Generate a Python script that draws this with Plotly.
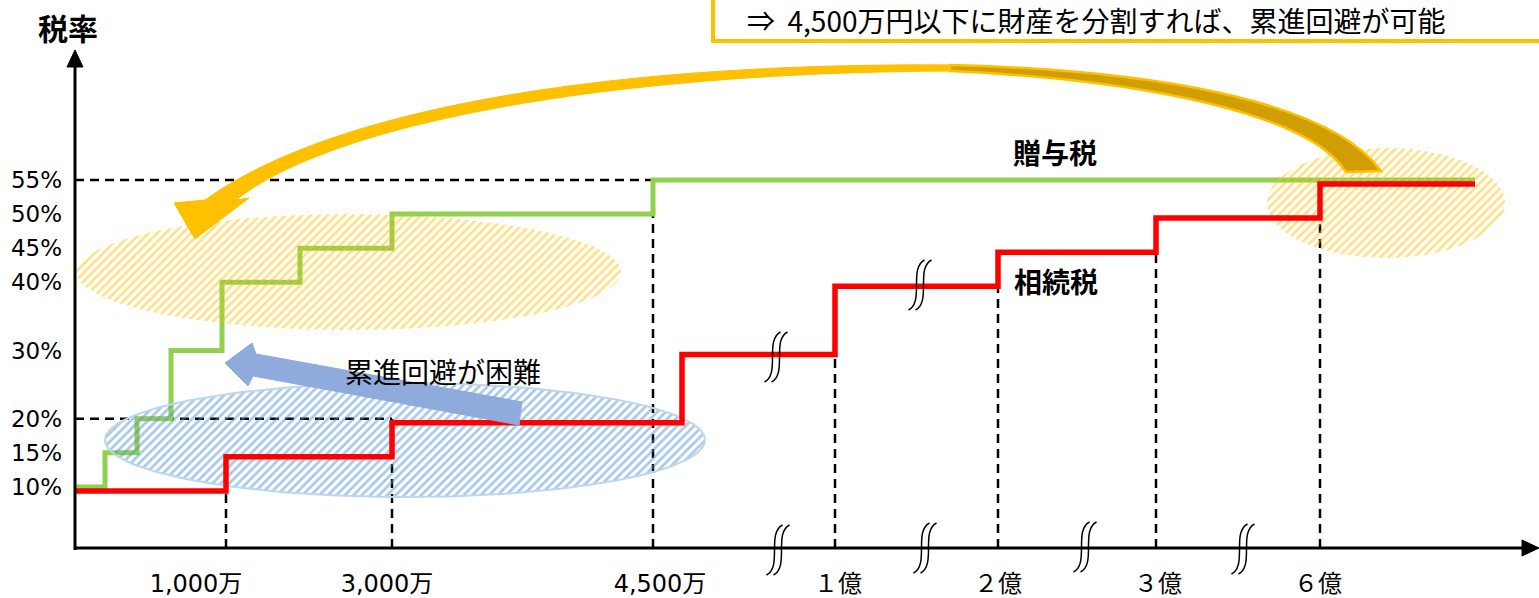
import numpy as np
import plotly.graph_objects as go

# ---------------- data ----------------
rates = [10, 15, 20, 30, 40, 45, 50, 55]
# schematic positions (broken x-axis) of the bracket boundaries
gift_breaks = [0, 30, 62, 96, 147, 225, 317, 578, 1400]
inherit_breaks = [0, 151, 317, 607, 760, 923, 1081, 1245, 1400]
rate_tick_vals = [10, 15, 20, 30, 40, 45, 50, 55]
rate_tick_text = ["10%", "15%", "20%", "30%", "40%", "45%", "50%", "55%"]
amount_tick_text = ["1,000万", "3,000万", "4,500万", "１億", "２億", "３億", "６億"]
amount_tick_pos = [121, 312, 585, 763, 923, 1083, 1243]
guide_x = [151, 317, 578, 760, 923, 1081, 1245]
guide_rate = [10, 20, 50, 30, 40, 45, 50]
hguide_rate = [55, 20]
hguide_end = [1245, 317]

# ---------------- layout constants ----------------
W, H = 1539, 598
ORIGIN_PX = 75
AXIS_PX = 548
PX0 = 555.2
PXPER = 6.822
RED_SHIFT = 4
CJK = "Noto Sans CJK JP"
LAT = "DejaVu Sans, Noto Sans CJK JP"


def X(px):
    return px - ORIGIN_PX


axis_rate = (PX0 - AXIS_PX) / PXPER

fig = go.Figure()


def ellipse(cx, cy, rx, ry, n=160):
    t = np.linspace(0, 2 * np.pi, n)
    return X(cx + rx * np.cos(t)), cy + ry * np.sin(t)


def hatched(cx, cy, rx, ry, fg, edge, sol):
    ex, ey = ellipse(cx, cy, rx, ry)
    fig.add_trace(go.Scatter(x=ex, y=ey, yaxis="y2", mode="lines", fill="toself",
                             line=dict(color=edge, width=2 if edge != "rgba(0,0,0,0)" else 0),
                             fillcolor="rgba(0,0,0,0)",
                             fillpattern=dict(shape="/", fgcolor=fg, bgcolor="rgba(0,0,0,0)",
                                              size=6, solidity=sol),
                             hoverinfo="skip"))


hatched(349, 272, 272, 58, "#FFC000", "rgba(0,0,0,0)", 0.42)
hatched(405, 440, 300, 57, "#4F91D2", "#BDD7EE", 0.45)
hatched(1386, 203, 119, 55, "#FFC000", "rgba(0,0,0,0)", 0.42)

# dashed guides
gx, gy = [], []
for xv, rv in zip(guide_x, guide_rate):
    gx += [xv, xv, None]
    gy += [axis_rate, rv, None]
for rv, xe in zip(hguide_rate, hguide_end):
    gx += [0, xe, None]
    gy += [rv, rv, None]
fig.add_trace(go.Scatter(x=gx, y=gy, mode="lines",
                         line=dict(color="black", width=2.5, dash="9px,6px"),
                         hoverinfo="skip"))

# step lines
fig.add_trace(go.Scatter(x=gift_breaks, y=rates + [rates[-1]], mode="lines",
                         line=dict(color="#92D050", width=5, shape="hv"), name="贈与税"))
fig.add_trace(go.Scatter(x=inherit_breaks, y=rates + [rates[-1]], mode="lines", yaxis="y3",
                         line=dict(color="#FF0000", width=5.5, shape="hv"), name="相続税"))


def P(x, y):
    return f"{X(x)},{y}"


shapes = []
# yellow curved arrow: front (left) part with head
shapes.append(dict(
    type="path", xref="x", yref="y2",
    path=(f"M {P(955, 65)} C {P(600, 62)} {P(330, 110)} {P(205, 200)} "
          f"L {P(174, 203)} L {P(195, 239)} L {P(249, 198)} L {P(236, 200)} "
          f"C {P(330, 125)} {P(600, 72)} {P(955, 71)} Z"),
    fillcolor="#FFC000", line=dict(color="#FFC000", width=1)))
# back (right) part
shapes.append(dict(
    type="path", xref="x", yref="y2",
    path=(f"M {P(950, 65)} C {P(1150, 70)} {P(1330, 100)} {P(1381, 171)} "
          f"L {P(1346, 172)} C {P(1310, 115)} {P(1150, 80)} {P(950, 71)} Z"),
    fillcolor="#D09E00", line=dict(color="#FFC000", width=2.5)))
# blue arrow
shapes.append(dict(
    type="path", xref="x", yref="y2",
    path=(f"M {P(225, 363)} L {P(252, 343)} L {P(256, 354)} L {P(522, 402)} "
          f"L {P(519, 425)} L {P(253, 376)} L {P(248, 386)} Z"),
    fillcolor="#8FAADC", line=dict(color="#8FAADC", width=1)))

# axes lines and arrowheads
shapes.append(dict(type="line", xref="x", yref="y2", x0=X(75), x1=X(75), y0=550, y1=64,
                   line=dict(color="black", width=3)))
shapes.append(dict(type="path", xref="x", yref="y2",
                   path=f"M {P(75, 50)} L {P(67, 67)} L {P(83, 67)} Z",
                   fillcolor="black", line=dict(color="black", width=1)))
shapes.append(dict(type="line", xref="x", yref="y2", x0=X(74), x1=X(1524), y0=548, y1=548,
                   line=dict(color="black", width=3)))
shapes.append(dict(type="path", xref="x", yref="y2",
                   path=f"M {P(1539, 548)} L {P(1522, 540)} L {P(1522, 556)} Z",
                   fillcolor="black", line=dict(color="black", width=1)))


def squiggle(cx, cy, h=50):
    out = []
    for dx in (-3.5, 3.5):
        c = cx + dx
        p = (f"M {P(c + 8, cy - h / 2)} C {P(c - 8, cy - h / 3)} "
             f"{P(c + 8, cy + h / 3)} {P(c - 8, cy + h / 2)}")
        out.append(dict(type="path", xref="x", yref="y2", path=p,
                        line=dict(color="black", width=1.5)))
    return out


for cx, cy in [(778, 550), (925, 548), (1085, 547), (1243, 549), (776, 357), (920, 285)]:
    shapes += squiggle(cx, cy)

# top message box
shapes.append(dict(type="rect", xref="x", yref="y2", x0=X(713), x1=X(1570), y0=-10, y1=41,
                   fillcolor="white", line=dict(color="#FFC000", width=4)))

annotations = [
    dict(x=X(746), y=20, xref="x", yref="y2", xanchor="left", yanchor="middle", showarrow=False,
         text="⇒  4,500万円以下に財産を分割すれば、累進回避が可能", borderpad=0,
         font=dict(family=CJK, size=28, color="black")),
    dict(x=X(68), y=27, xref="x", yref="y2", showarrow=False, text="<b>税率</b>",
         font=dict(family=CJK, size=30, color="black")),
    dict(x=X(1055), y=152, xref="x", yref="y2", showarrow=False, text="<b>贈与税</b>",
         font=dict(family=CJK, size=28, color="black")),
    dict(x=X(1056), y=281, xref="x", yref="y2", showarrow=False, text="<b>相続税</b>",
         font=dict(family=CJK, size=28, color="black")),
    dict(x=X(443), y=371, xref="x", yref="y2", showarrow=False, text="累進回避が困難",
         font=dict(family=CJK, size=28, color="black")),
]

fig.update_layout(
    width=W, height=H, autosize=False,
    margin=dict(l=0, r=0, t=0, b=0, pad=0),
    paper_bgcolor="white", plot_bgcolor="white", showlegend=False,
    shapes=shapes, annotations=annotations,
    xaxis=dict(range=[-ORIGIN_PX, W - ORIGIN_PX], anchor="free", position=(H - AXIS_PX) / H,
               tickmode="array", tickvals=amount_tick_pos, ticktext=amount_tick_text,
               ticks="", showgrid=False, zeroline=False, showline=False,
               ticklabelstandoff=19, tickfont=dict(family=LAT, size=24, color="black")),
    yaxis=dict(range=[(PX0 - H) / PXPER, PX0 / PXPER], anchor="free", position=ORIGIN_PX / W,
               tickmode="array", tickvals=rate_tick_vals, ticktext=rate_tick_text,
               ticks="", showgrid=False, zeroline=False, showline=False,
               ticklabelstandoff=13, tickfont=dict(family=LAT, size=23, color="black")),
    yaxis2=dict(range=[H, 0], overlaying="y", anchor="x", visible=False),
    yaxis3=dict(range=[(PX0 + RED_SHIFT - H) / PXPER, (PX0 + RED_SHIFT) / PXPER],
                overlaying="y", anchor="x", visible=False),
)

fig.write_html("out.html", config={"displayModeBar": False},
               post_script="document.body.style.margin='0';")
